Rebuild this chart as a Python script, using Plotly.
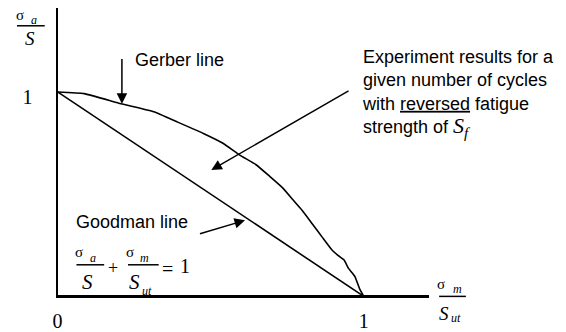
import plotly.graph_objects as go

gerber_x = [0.0, 0.087, 0.207, 0.314, 0.388, 0.476, 0.540, 0.595, 0.648, 0.692, 0.735,
            0.767, 0.799, 0.832, 0.864, 0.896, 0.922, 0.935, 0.950, 0.971, 0.987, 1.0]
gerber_y = [1.0, 0.992, 0.942, 0.903, 0.855, 0.797, 0.749, 0.691, 0.644, 0.588, 0.531,
            0.475, 0.420, 0.354, 0.290, 0.227, 0.193, 0.179, 0.137, 0.097, 0.034, 0.0]

# Goodman straight line
goodman_x = [0.0, 1.0]
goodman_y = [1.0, 0.0]

# arrows: (tip x, tip y, tail x, tail y) in data units
arrow_gerber = (0.210, 0.942, 0.210, 1.169)
arrow_experiment = (0.502, 0.618, 0.955, 1.010)
arrow_goodman = (0.612, 0.372, 0.460, 0.304)

x_ticks = [0, 1]
y_ticks = [1]

# the page body has an 8px margin, so the figure starts at (8, 8) in the window
OFF = 8
W, H = 566 - OFF, 332 - OFF
SANS = "Liberation Sans, Arial, sans-serif"
SERIF = "Liberation Serif, Times New Roman, serif"

# window-pixel frame of the plot area (origin at 53,300; unit = 309 x 207 px)
OX, OY, UX, UY = 53, 300, 309, 207
L, R, T, B = 53, 428, 8, 299


def px(x):
    return (x - OFF) / W


def py(y):
    return 1 - (y - OFF) / H


fig = go.Figure()

fig.add_trace(go.Scatter(x=gerber_x, y=gerber_y, mode="lines",
                         line=dict(color="black", width=1.6, shape="spline", smoothing=0.4),
                         cliponaxis=False, showlegend=False, hoverinfo="skip"))
fig.add_trace(go.Scatter(x=goodman_x, y=goodman_y, mode="lines",
                         line=dict(color="black", width=1.6),
                         cliponaxis=False, showlegend=False, hoverinfo="skip"))

annotations = []

for tx, ty, sx, sy in [arrow_gerber, arrow_experiment, arrow_goodman]:
    annotations.append(dict(x=tx, y=ty, ax=sx, ay=sy, xref="x", yref="y",
                            axref="x", ayref="y", text="", showarrow=True,
                            arrowhead=2, arrowsize=1.4, arrowwidth=1.5,
                            arrowcolor="black", standoff=0))

# text labels
annotations.append(dict(x=0.246, y=1.155, xref="x", yref="y", text="Gerber line",
                        showarrow=False, xanchor="left", yanchor="middle",
                        font=dict(family=SANS, size=18, color="black")))
annotations.append(dict(x=0.055, y=0.362, xref="x", yref="y", text="Goodman line",
                        showarrow=False, xanchor="left", yanchor="middle",
                        font=dict(family=SANS, size=18, color="black")))
annotations.append(dict(
    x=0.987, y=0.99, xref="x", yref="y",
    text=("Experiment results for a<br>given number of cycles<br>"
          "with <u>reversed</u> fatigue<br>strength of "
          "<span style='font-family:Liberation Serif;font-size:22px'><i>S</i>"
          "<sub><i>f</i></sub></span>"),
    showarrow=False, xanchor="left", yanchor="middle", align="left",
    font=dict(family=SANS, size=18, color="black")))


def glyph(text, left, base, size, italic=False):
    # place a serif glyph by its left edge and baseline, in window pixels
    t = f"<i>{text}</i>" if italic else text
    annotations.append(dict(x=px(left - 3), y=py(base - 0.15 * size), xref="paper", yref="paper",
                            text=t, showarrow=False, xanchor="left", yanchor="middle",
                            borderpad=0, font=dict(family=SERIF, size=size, color="black")))


shapes = []


def bar(x0, x1, y):
    shapes.append(dict(type="line", xref="paper", yref="paper",
                       x0=px(x0), x1=px(x1), y0=py(y), y1=py(y),
                       line=dict(color="black", width=1.5)))


# y-axis label  sigma_a / S
glyph("σ", 13, 17, 15)
glyph("a", 28, 22, 12, True)
bar(12, 40, 26)
glyph("S", 22, 42, 19, True)

# x-axis label  sigma_m / S_ut
glyph("σ", 438, 290, 15)
glyph("m", 454, 294, 12, True)
bar(438, 465, 300)
glyph("S", 440, 320, 19, True)
glyph("ut", 452, 324, 12, True)

# Goodman equation
glyph("σ", 73, 257, 15)
glyph("a", 88, 263, 12, True)
bar(72, 100, 268)
glyph("S", 80, 289, 21, True)
glyph("+", 106, 274, 18)
glyph("σ", 124, 257, 15)
glyph("m", 138, 263, 12, True)
bar(124, 155, 268)
glyph("S", 127, 289, 21, True)
glyph("ut", 140, 296, 12, True)
glyph("=", 160, 275, 20)
glyph("1", 178, 272, 20)

fig.update_layout(
    width=W, height=H,
    margin=dict(l=0, r=0, t=0, b=0),
    paper_bgcolor="white", plot_bgcolor="white",
    showlegend=False,
    xaxis=dict(domain=[px(L), px(R)],
               range=[(L - OX) / UX, (R - OX) / UX],
               showgrid=False, zeroline=False, showline=True,
               linecolor="black", linewidth=2.5, ticks="",
               tickvals=x_ticks, ticktext=[str(v) for v in x_ticks],
               ticklabelstandoff=6,
               tickfont=dict(family=SERIF, size=20, color="black")),
    yaxis=dict(domain=[py(B), py(T)],
               range=[(OY - B) / UY, (OY - T) / UY],
               showgrid=False, zeroline=False, showline=True,
               linecolor="black", linewidth=2, ticks="",
               tickvals=y_ticks, ticktext=[str(v) for v in y_ticks],
               ticklabelstandoff=19, ticklabelshift=5,
               tickfont=dict(family=SERIF, size=20, color="black")),
    annotations=annotations,
    shapes=shapes,
)

fig.write_html("out.html")
